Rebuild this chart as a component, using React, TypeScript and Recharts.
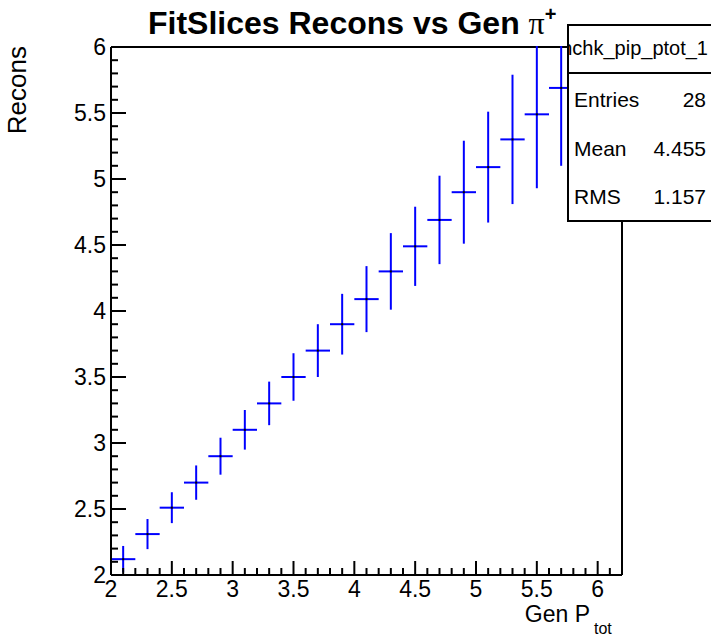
import React from "react";
import { ComposedChart, Scatter, XAxis, YAxis, ErrorBar, ReferenceLine } from "recharts";

// Bin centres (Gen P_tot)
const genPtot = [2.1, 2.3, 2.5, 2.7, 2.9, 3.1, 3.3, 3.5, 3.7, 3.9, 4.1, 4.3, 4.5, 4.7, 4.9, 5.1, 5.3, 5.5, 5.7];
// Fitted mean (Recons)
const recons = [2.12, 2.31, 2.51, 2.70, 2.90, 3.10, 3.30, 3.50, 3.70, 3.90, 4.09, 4.30, 4.49, 4.69, 4.90, 5.09, 5.30, 5.49, 5.69];
// Vertical errors
const reconsErr = [0.10, 0.114, 0.117, 0.13, 0.14, 0.15, 0.165, 0.18, 0.2, 0.23, 0.25, 0.29, 0.30, 0.335, 0.39, 0.42, 0.49, 0.56, 0.59];
// Half bin width
const binHalfWidth = [0.1, 0.1, 0.1, 0.1, 0.1, 0.1, 0.1, 0.1, 0.1, 0.1, 0.1, 0.1, 0.1, 0.1, 0.1, 0.1, 0.1, 0.1, 0.1];

const xMajorTicks = [2, 2.5, 3, 3.5, 4, 4.5, 5, 5.5, 6];
const yMajorTicks = [2, 2.5, 3, 3.5, 4, 4.5, 5, 5.5, 6];

const statsName = "hchk_pip_ptot_1";
const statsLabels = ["Entries", "Mean", "RMS"];
const statsValues = ["28", "4.455", "1.157"];

const minorTicks = (lo: number, hi: number) => {
  const out: number[] = [];
  const n = Math.round((hi - lo) * 10);
  for (let i = 0; i <= n; i++) out.push(Math.round((lo + i * 0.1) * 10) / 10);
  return out;
};
const xTicks = minorTicks(2, 6.2);
const yTicks = minorTicks(2, 6);

const rows = genPtot.map((x, i) => ({ x, y: recons[i], yErr: reconsErr[i], xErr: binHalfWidth[i] }));

const FONT = '"Liberation Sans", Arial, Helvetica, sans-serif';
const isMajor = (v: number, majors: number[]) => majors.some((m) => Math.abs(m - v) < 1e-6);

const XTick = (props: any) => {
  const { x, y, payload } = props;
  const v = payload.value as number;
  const major = isMajor(v, xMajorTicks);
  return (
    <g>
      <line x1={x} y1={y} x2={x} y2={y - (major ? 14 : 7)} stroke="#000" strokeWidth={2} />
      {major && (
        <text x={x} y={y + 22} textAnchor="middle" fontSize={23} fontFamily={FONT} fill="#000">
          {String(v)}
        </text>
      )}
    </g>
  );
};

const YTick = (props: any) => {
  const { x, y, payload } = props;
  const v = payload.value as number;
  const major = isMajor(v, yMajorTicks);
  return (
    <g>
      <line x1={x} y1={y} x2={x + (major ? 15 : 7)} y2={y} stroke="#000" strokeWidth={2} />
      {major && (
        <text x={x - 5} y={y + 8} textAnchor="end" fontSize={23} fontFamily={FONT} fill="#000">
          {String(v)}
        </text>
      )}
    </g>
  );
};

const Dot = (props: any) => {
  const { cx, cy } = props;
  return <rect x={cx - 1} y={cy - 1} width={2} height={2} fill="#000" />;
};

export default function App() {
  return (
    <div
      style={{
        position: "absolute",
        left: 0,
        top: 0,
        width: 711,
        height: 637,
        overflow: "hidden",
        background: "#fff",
        fontFamily: FONT,
      }}
    >
      <ComposedChart width={711} height={637} data={rows} margin={{ top: 47, right: 89, bottom: 0, left: 0 }}>
        <XAxis
          dataKey="x"
          type="number"
          domain={[2, 6.2]}
          allowDataOverflow
          ticks={xTicks}
          interval={0}
          tick={<XTick />}
          tickLine={false}
          tickSize={0}
          tickMargin={0}
          height={62}
          axisLine={{ stroke: "#000", strokeWidth: 2 }}
        />
        <YAxis
          dataKey="y"
          type="number"
          domain={[2, 6]}
          allowDataOverflow
          ticks={yTicks}
          interval={0}
          tick={<YTick />}
          tickLine={false}
          tickSize={0}
          tickMargin={0}
          width={111}
          axisLine={{ stroke: "#000", strokeWidth: 2 }}
        />
        <ReferenceLine y={6} stroke="#000" strokeWidth={2} />
        <ReferenceLine x={6.2} stroke="#000" strokeWidth={2} />
        <Scatter data={rows} dataKey="y" isAnimationActive={false} shape={<Dot />}>
          <ErrorBar dataKey="yErr" direction="y" width={0} stroke="#0000ff" strokeWidth={2} isAnimationActive={false} />
          <ErrorBar dataKey="xErr" direction="x" width={0} stroke="#0000ff" strokeWidth={2} isAnimationActive={false} />
        </Scatter>
      </ComposedChart>
      <svg width={711} height={637} style={{ position: "absolute", left: 0, top: 0, pointerEvents: "none" }}>
        <defs>
          <clipPath id="statsClip">
            <rect x={569} y={25} width={200} height={196} />
          </clipPath>
        </defs>
        {/* frame clip: hide error bars beyond the top of the frame */}
        <rect x={112} y={0} width={520} height={46} fill="#fff" />
        <text x={148} y={34} fontSize={32} fontWeight="bold" fontFamily={FONT} fill="#000">
          FitSlices Recons vs Gen{" "}
          <tspan fontFamily='"Liberation Serif", "DejaVu Serif", serif' fontWeight="normal">π</tspan>
          <tspan fontSize={20} dy={-13}>+</tspan>
        </text>
        <text
          x={26}
          y={46}
          transform="rotate(-90 26 46)"
          textAnchor="end"
          fontSize={26}
          fontFamily={FONT}
          fill="#000"
        >
          Recons
        </text>
        <text x={590} y={622} textAnchor="end" fontSize={23} fontFamily={FONT} fill="#000">
          Gen P
        </text>
        <text x={594} y={634} fontSize={16} fontFamily={FONT} fill="#000">
          tot
        </text>
        <rect x={568} y={25} width={200} height={196} fill="#fff" stroke="#000" strokeWidth={2} />
        <line x1={568} y1={73} x2={711} y2={73} stroke="#000" strokeWidth={2} />
        <g clipPath="url(#statsClip)">
          <text x={708} y={55} textAnchor="end" fontSize={20} fontFamily={FONT} fill="#000">
            {statsName}
          </text>
        </g>
        {statsLabels.map((lab, i) => (
          <g key={lab}>
            <text x={574} y={107 + i * 48.5} fontSize={21} fontFamily={FONT} fill="#000">
              {lab}
            </text>
            <text x={706} y={107 + i * 48.5} textAnchor="end" fontSize={21} fontFamily={FONT} fill="#000">
              {statsValues[i]}
            </text>
          </g>
        ))}
      </svg>
    </div>
  );
}
